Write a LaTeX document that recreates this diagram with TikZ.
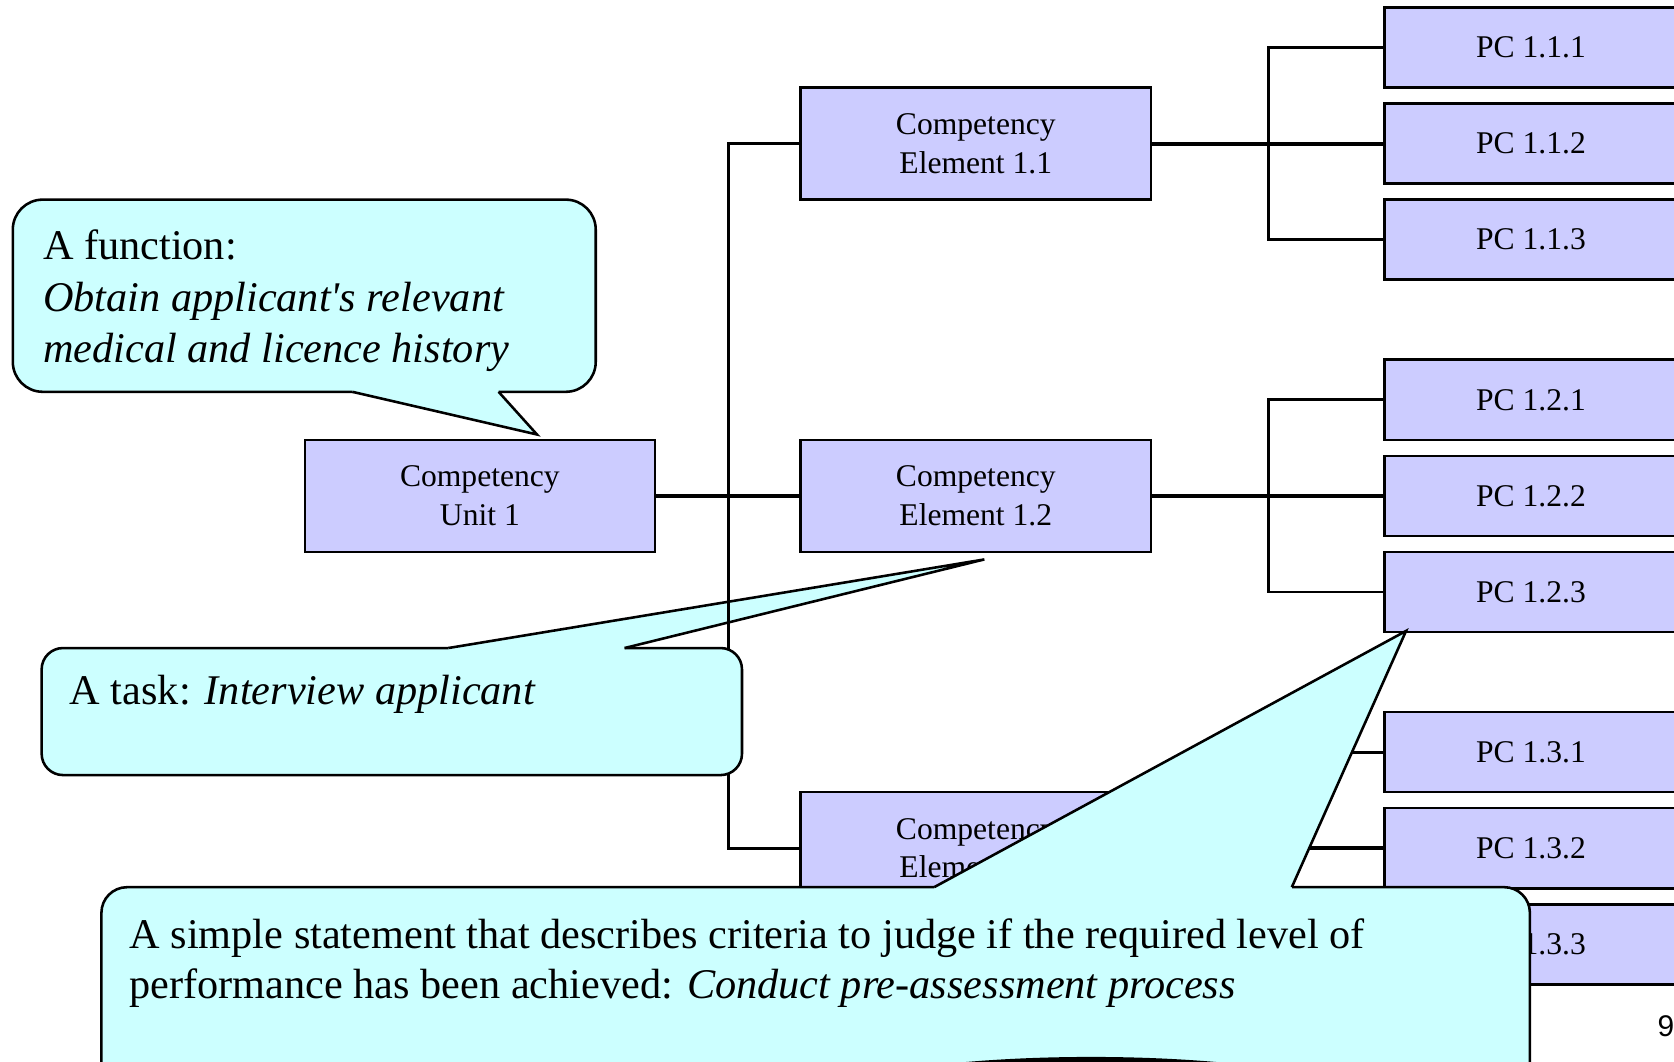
\documentclass[tikz,border=0pt]{standalone}
\usepackage{fontspec}
\setmainfont{Liberation Serif}
\newfontfamily\pgsans{Liberation Sans}
\definecolor{boxfill}{RGB}{204,204,255}
\definecolor{callfill}{RGB}{204,255,255}
\begin{document}
\begin{tikzpicture}[x=0.5pt,y=-0.5pt,
  blk/.style={draw=black, line width=1.2pt, fill=boxfill, minimum width=164pt, minimum height=52.5pt, inner sep=0pt, align=center, font=\fontsize{14.8}{18}\selectfont},
  pcbox/.style={blk, minimum width=137pt, minimum height=37.5pt},
  thinln/.style={line width=1.3pt},
  thkln/.style={line width=1.8pt},
  callout/.style={draw=black, line width=1.2pt, fill=callfill},
  ptr/.style={draw=black, line width=1.2pt, line join=miter},
  ctext/.style={anchor=base west, inner sep=0pt, font=\fontsize{19.8}{24}\selectfont}]
\clip (0,0) rectangle (1568,994);
\fill[white] (0,0) rectangle (1568,994);

% tree nodes
\node[blk] (u1) at (449.5,464.5) {Competency\\Unit 1};
\node[blk] (e1) at (914,134.5) {Competency\\Element 1.1};
\node[blk] (e2) at (914,464.5) {Competency\\Element 1.2};
\node[blk] (e3) at (914,794.5) {Competency\\Element 1.3};

\node[pcbox] (p111) at (1434,44.5) {PC 1.1.1};
\node[pcbox] (p112) at (1434,134.5) {PC 1.1.2};
\node[pcbox] (p113) at (1434,224.5) {PC 1.1.3};
\node[pcbox] (p121) at (1434,374.5) {PC 1.2.1};
\node[pcbox] (p122) at (1434,464.5) {PC 1.2.2};
\node[pcbox] (p123) at (1434,554.5) {PC 1.2.3};
\node[pcbox] (p131) at (1434,704.5) {PC 1.3.1};
\node[pcbox] (p132) at (1434,794.5) {PC 1.3.2};
\node[pcbox] (p133) at (1434,884.5) {PC 1.3.3};

% connectors
\coordinate (j1) at (682,464.5);
\draw[thkln] (u1.east) -- (e2.west);
\draw[thinln] (j1) |- (e1.west);
\draw[thinln] (j1) |- (e3.west);

\coordinate (k1) at (1188,134.5);
\draw[thkln] (e1.east) -- (p112.west);
\draw[thinln] (k1) |- (p111.west);
\draw[thinln] (k1) |- (p113.west);

\coordinate (k2) at (1188,464.5);
\draw[thkln] (e2.east) -- (p122.west);
\draw[thinln] (k2) |- (p121.west);
\draw[thinln] (k2) |- (p123.west);

\coordinate (k3) at (1188,794.5);
\draw[thkln] (e3.east) -- (p132.west);
\draw[thinln] (k3) |- (p131.west);
\draw[thinln] (k3) |- (p133.west);

% callout 1
\draw[callout, rounded corners=14pt] (12,187) rectangle (558,367);
\fill[callfill] (330,363) -- (330,367) -- (503,407) -- (467,367) -- (467,363) -- cycle;
\draw[ptr] (330,367) -- (503,407) -- (467,367);
\node[ctext] (t1a) at (40,243) {A function:};
\node[ctext] (t1b) at (40,292) {\itshape Obtain applicant\textquotesingle s relevant};
\node[ctext] (t1c) at (40,340) {\itshape medical and licence history};

% callout 2
\draw[callout, rounded corners=10pt] (39,607) rectangle (695,726);
\fill[callfill] (420,611) -- (420,607) -- (922,524) -- (585,607) -- (585,611) -- cycle;
\draw[ptr] (420,607) -- (922,524) -- (585,607);
\coordinate (c2t) at (682,607);
\draw[thinln] (j1) -- (c2t);
\node[ctext] (t2) at (65,660) {A task: \textit{Interview applicant}};

% callout 3
\draw[callout, rounded corners=12pt] (95,831) rectangle (1433,1040);
\fill[callfill] (875,835) -- (875,831) -- (1317,591) -- (1210,831) -- (1210,835) -- cycle;
\draw[ptr] (875,831) -- (1317,591) -- (1210,831);
\node[ctext] (t3a) at (121,888) {A simple statement that describes criteria to judge if the required level of};
\node[ctext] (t3b) at (121,935) {performance has been achieved: \textit{Conduct pre-assessment process}};

% partly visible dark shape at the bottom
\fill[black] (1022,1050) ellipse [x radius=150pt, y radius=30pt];

% page number
\node[font=\pgsans\fontsize{14}{16}\selectfont, inner sep=0pt] (pg) at (1560.5,961) {9};
\end{tikzpicture}
\end{document}
